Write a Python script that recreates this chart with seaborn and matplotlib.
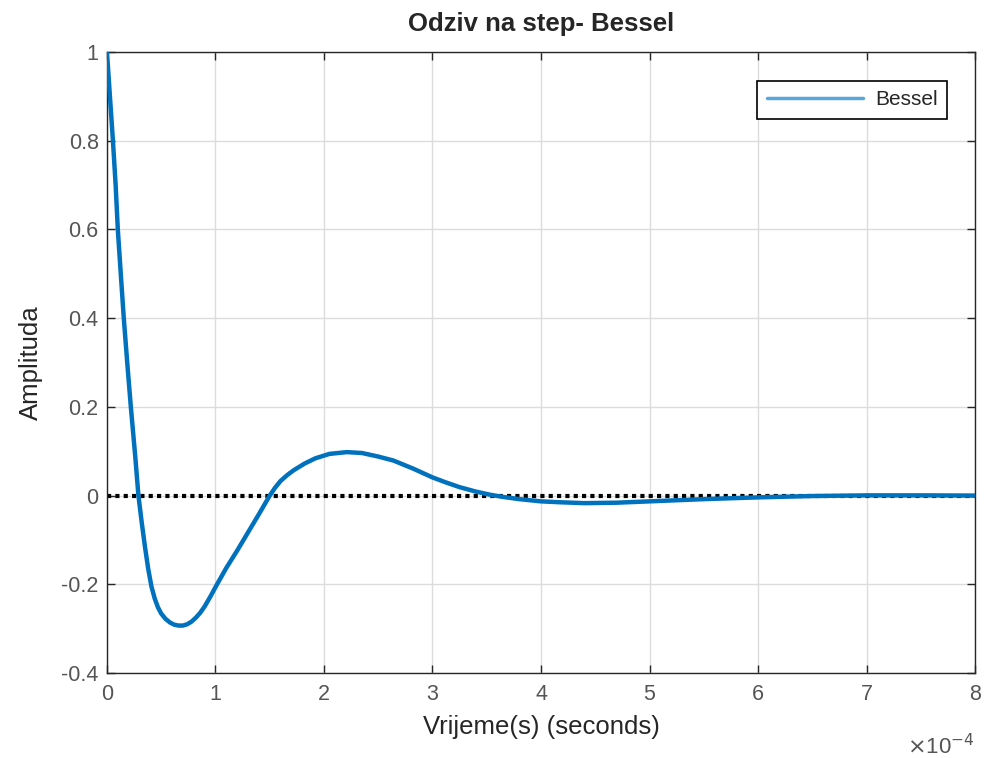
import numpy as np
import pandas as pd
import matplotlib
matplotlib.use('Agg')
import matplotlib.pyplot as plt
import seaborn as sns

# vrijeme u jedinicama 1e-4 s, amplituda ocitana sa slike
vrijeme = [0.0, 0.03, 0.055, 0.08, 0.10, 0.13, 0.155, 0.19, 0.22, 0.26, 0.29,
           0.32, 0.35, 0.38, 0.41, 0.44, 0.47, 0.50, 0.54, 0.58, 0.62, 0.66,
           0.70, 0.74, 0.78, 0.82, 0.86, 0.90, 0.95, 1.01, 1.10, 1.20, 1.30,
           1.40, 1.50, 1.55, 1.60, 1.66, 1.72, 1.82, 1.92, 2.05, 2.21, 2.35,
           2.50, 2.64, 2.82, 3.00, 3.12, 3.25, 3.40, 3.53, 3.65, 3.80, 4.00,
           4.17, 4.40, 4.70, 5.00, 5.50, 6.00, 6.50, 7.00, 7.50, 8.00]
amplituda = [1.0, 0.89, 0.80, 0.70, 0.60, 0.49, 0.40, 0.29, 0.20, 0.09, 0.0,
             -0.06, -0.115, -0.165, -0.205, -0.232, -0.252, -0.266, -0.278,
             -0.286, -0.291, -0.293, -0.293, -0.290, -0.284, -0.275, -0.264,
             -0.250, -0.229, -0.202, -0.163, -0.124, -0.083, -0.042, 0.0, 0.018,
             0.033, 0.046, 0.057, 0.072, 0.084, 0.094, 0.098, 0.096, 0.088,
             0.079, 0.061, 0.041, 0.030, 0.019, 0.009, 0.002, -0.003, -0.008,
             -0.013, -0.015, -0.017, -0.016, -0.013, -0.008, -0.004, -0.001,
             0.0005, 0.0005, 0.0]

df = pd.DataFrame({'t': vrijeme, 'y': amplituda})

sns.set_theme(style='whitegrid')
plt.rcParams['font.family'] = ['Liberation Sans', 'DejaVu Sans']

fig = plt.figure(figsize=(9.84, 7.58), dpi=100)
ax = fig.add_axes([0.1087, 0.1121, 0.8822, 0.8193])
ax.set_facecolor('white')

ax.plot([0, 8], [0, 0], color='black', linestyle=(0, (1, 1)), linewidth=3, zorder=2)
sns.lineplot(data=df, x='t', y='y', ax=ax, color='#0072BD', linewidth=3.2,
             label='Bessel', zorder=3, sort=False)

ax.set_xlim(0, 8)
ax.set_ylim(-0.4, 1)
ax.set_xticks(range(0, 9))
ax.set_yticks([-0.4, -0.2, 0, 0.2, 0.4, 0.6, 0.8, 1])
ax.set_yticklabels(['-0.4', '-0.2', '0', '0.2', '0.4', '0.6', '0.8', '1'])

ax.grid(True, color='#dcdcdc', linewidth=1)
for s in ax.spines.values():
    s.set_color('#262626')
    s.set_linewidth(1)
ax.tick_params(axis='both', direction='in', length=6, width=1, color='#262626',
               labelcolor='#555555', labelsize=15.5, top=True, right=True,
               left=True, bottom=True)
ax.tick_params(axis='x', pad=8)
ax.tick_params(axis='y', pad=6)

ax.set_title('Odziv na step- Bessel', fontsize=18.5, fontweight='bold', pad=15)
ax.set_xlabel('Vrijeme(s) (seconds)', fontsize=18.5, color='#262626', labelpad=7)
ax.set_ylabel('Amplituda', fontsize=18.5, color='#262626', labelpad=13)
ax.text(1.0, -0.098, r'$\times$10$^{-4}$', transform=ax.transAxes, ha='right',
        va='top', fontsize=16, color='#555555')

leg = ax.legend(loc='upper right', bbox_to_anchor=(0.9677, 0.9533), borderaxespad=0,
                fontsize=15, frameon=True, fancybox=False, handlelength=4.6,
                borderpad=0.45, handletextpad=0.6)
leg.get_frame().set_edgecolor('black')
leg.get_frame().set_linewidth(1.2)
leg.get_frame().set_alpha(1)
for line in leg.get_lines():
    line.set_linewidth(2.5)
    line.set_color('#5aa6d8')

fig.savefig('out.png', dpi=100)
